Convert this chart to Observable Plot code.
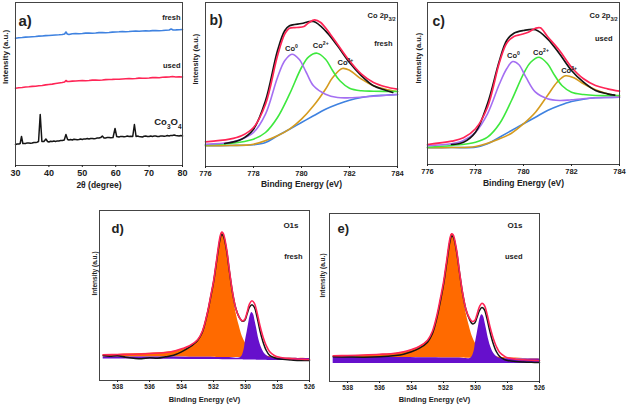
<!DOCTYPE html>
<html><head><meta charset="utf-8">
<script src="https://cdn.jsdelivr.net/npm/d3@7"></script>
<script src="https://cdn.jsdelivr.net/npm/@observablehq/plot@0.6"></script>
<style>
body{margin:0;background:#fff;}
#wrap{position:relative;width:627px;height:408px;overflow:hidden;background:#fff;}
</style></head><body><div id="wrap"></div>
<script>
// ---------- Panel a: XRD (2θ, intensity a.u.) ----------
const xrdTicks = [30,40,50,60,70,80];
const xrdFresh = [[30,127.3],[31,127.8],[32,128],[33,128.4],[34,128.5],[35,128.8],[36,129],[37,129.4],[38,129.5],[39,129.9],[40,130],[41,130.3],[42,130.5],[43,130.7],[44,131],[44.7,131.5],[45.1,133.5],[45.5,131.5],[46,131],[47,131.8],[48,132],[49,131.8],[50,132],[51,132.4],[52,132.5],[53,132.3],[54,132.5],[55,132.9],[56,133],[57,132.8],[58,133],[59,133.4],[60,133.5],[61,133.7],[62,134],[63,133.8],[64,134],[65,134.3],[66,134.5],[67,134.3],[68,134.5],[69,134.7],[70,134.5],[71,134.9],[72,135],[73,134.8],[74,135],[75,135.3],[76,135.5],[76.6,136.5],[77.2,135.5],[78,135.6],[79,135.8],[80,136]];
const xrdUsed = [[30,77.3],[31,77.7],[32,78],[33,78.5],[34,78.7],[35,79.1],[36,79.3],[37,79.8],[38,80],[39,80.6],[40,81],[41,81.4],[42,82],[43,82.5],[44,83],[44.7,83.5],[45.1,85],[45.5,84],[46,84],[47,84.4],[48,84.5],[49,84.8],[50,85],[51,84.8],[52,85],[53,85.4],[54,85.5],[55,85.3],[56,85.5],[57,85.9],[58,86],[59,86.1],[60,86.3],[61,86.2],[62,86.5],[63,86.8],[64,87],[65,86.8],[66,87],[67,87.4],[68,87.3],[69,87.2],[70,87.5],[71,87.9],[72,88],[73,87.8],[74,88.2],[75,88.4],[76,88.5],[77,89],[78,88.5],[79,88.7],[80,88.5]];
const xrdCo3O4 = [[30,21],[30.5,21.5],[31,21.4],[31.4,22],[31.8,29],[32.2,22],[33,22],[33.5,22.6],[34,22.5],[34.5,22.2],[35,22.5],[35.5,23],[36,23],[36.5,23.3],[36.9,24],[37.4,51],[37.9,24],[38.5,24],[39.1,26.5],[39.6,24],[40,23.5],[40.5,24.2],[41,24],[41.5,24.4],[42,24],[42.5,24.6],[43,24.5],[43.5,24.9],[44,25],[44.6,25.5],[45.1,31],[45.6,26],[46,25.5],[46.5,26],[47,25.5],[47.5,26.2],[48,26],[48.5,25.7],[49,26],[49.5,26.5],[50,26],[50.5,26.6],[51,26.5],[51.5,26.9],[52,26.5],[52.5,27],[53,27],[53.5,26.7],[54,27],[54.5,27.6],[55,27.5],[55.5,27.9],[56,29.5],[56.5,27.6],[57,27.5],[57.5,28.1],[58,28],[58.5,27.7],[59.2,28],[59.8,37],[60.3,29],[61,28.5],[61.5,29.1],[62,29],[62.5,28.7],[63,29],[63.5,29.4],[64,29],[64.5,29.3],[65.1,29],[65.6,41],[66.1,29],[66.5,29.4],[67,29],[67.5,28.8],[68,28.5],[68.5,29.2],[69,29.5],[69.5,29],[70,29],[70.5,29.5],[71,29],[71.5,29.4],[72,29.5],[72.5,29.1],[73,29],[73.5,29.6],[74,29.5],[74.5,29.2],[75,29.5],[75.5,29.9],[76,29.5],[76.5,30.1],[77,30],[77.5,30.4],[78,30],[78.5,29.8],[79,29.5],[79.5,30],[80,29.5]];

// ---------- Panels b, c: Co 2p3/2 XPS ----------
const co2pTicks = [776,778,780,782,784];
const bBlue = [[776,20.7],[777,21],[778,21.7],[778.5,24],[779,30.7],[779.5,37.3],[780,44],[780.5,50.7],[781,57.3],[781.5,62.3],[782,66.3],[782.5,69],[783,70.7],[783.5,71.3],[784,72]];
const bPurple = [[776,22.3],[777,24],[777.5,27.3],[778,34],[778.5,52.3],[779,89],[779.3,105.7],[779.6,112.3],[779.9,107.3],[780.2,94],[780.5,80.7],[781,72.3],[781.5,69],[782,68.7],[783,70.3],[784,72]];
const bGreen = [[776,21.7],[777,23],[778,27.3],[778.5,34],[779,49],[779.5,72.3],[780,99],[780.3,109.7],[780.65,113.3],[781,107.3],[781.3,95.7],[781.6,85.7],[782,78.3],[782.5,75.7],[783,75.3],[784,75]];
const bGold = [[776,20.7],[777,21],[778,22.3],[779,30.7],[779.5,37.3],[780,47.3],[780.5,60.7],[781,77.3],[781.3,89],[781.7,98],[782,96.3],[782.5,87.3],[783,80.7],[783.5,77.3],[784,75]];
const bBlack = [[776.8,23],[777.5,27.3],[778,37.3],[778.5,65.7],[779,115.7],[779.3,135.7],[779.5,140.7],[780,143],[780.5,145],[781,135.7],[781.5,120.7],[782,104],[782.5,90.7],[783,80.7],[783.5,76.3],[783.8,74]];
const bRed = [[776,24.7],[777,27.3],[777.5,30.7],[778,39],[778.5,62.3],[779,110.7],[779.3,132.3],[779.5,138.3],[779.8,139],[780.1,140],[780.3,143.7],[780.55,146.7],[780.8,144],[781.2,132.3],[781.5,122.3],[782,105.7],[782.5,92.3],[783,84],[783.5,79.7],[784,77.3]];
const bPeakLabels = [{x:779.58,y:118,t:"Co^{0}"},{x:780.8,y:121,t:"Co^{2+}"},{x:781.83,y:104,t:"Co^{3+}"}];

const cBlue = [[776,16.7],[777,17],[778,17.3],[778.5,20.7],[779,27.3],[779.5,34],[780,40.7],[780.5,47.3],[781,54],[781.5,59],[782,63],[782.5,65.3],[783,66.7],[783.5,67],[784,67.3]];
const cPurple = [[776,18.7],[777,20.7],[777.5,24],[778,32.3],[778.5,50.7],[779,80.7],[779.3,95.7],[779.55,103],[779.8,100],[780.1,87.3],[780.5,72.3],[781,65.7],[781.5,64],[782,64.7],[783,66.7],[784,67.3]];
const cGreen = [[776,17.3],[777,19],[778,22.3],[778.5,27.3],[779,40.7],[779.5,64],[780,90.7],[780.3,102.3],[780.65,107.3],[781,100.7],[781.3,89],[781.6,79],[782,72.3],[782.5,70],[783,69],[784,69]];
const cGold = [[776,16.7],[777,17],[778,18],[779,25.7],[779.5,31.3],[780,40.7],[780.5,52.3],[781,69],[781.4,82.3],[781.75,88.7],[782.1,86.7],[782.5,80.7],[783,74.7],[783.5,70.7],[784,68.3]];
const cBlack = [[777,20],[777.5,22.3],[778,32.3],[778.5,60.7],[779,104],[779.3,124],[779.6,131.3],[780,134],[780.5,134.7],[781,125.7],[781.5,110.7],[782,94],[782.5,82.3],[783,74],[783.5,70.7],[783.8,69.3]];
const cRed = [[776,20],[777,23.3],[777.5,26.7],[778,35.7],[778.5,57.3],[779,102.3],[779.3,121.3],[779.6,128],[779.9,130],[780.2,132.3],[780.5,136.3],[780.7,136.7],[781,128],[781.5,114],[782,97.3],[782.5,85.7],[783,79],[783.5,75.7],[784,73.3]];
const cPeakLabels = [{x:779.58,y:109,t:"Co^{0}"},{x:780.73,y:112,t:"Co^{2+}"},{x:781.9,y:94,t:"Co^{3+}"}];

// ---------- Panels d, e: O1s XPS ----------
const o1sTicks = [538,536,534,532,530,528,526];
// [binding energy, top, base]
const dOrange = [[538.9,25.7,23.6],[538,26,23.6],[537,26.7,23.5],[536,27.3,23.5],[535,28.3,23.4],[534.5,29.3,23.4],[534,31,23.4],[533.5,34,23.3],[533,40,23.3],[532.7,48.8,23.3],[532.4,66,23.2],[532.2,81.5,23.2],[532,98,23.2],[531.8,119,23.1],[531.6,140.5,23.1],[531.5,147.3,23.1],[531.4,146.7,23.1],[531.2,133.3,23],[531,110,23],[530.8,88.3,23],[530.6,68.3,22.9],[530.4,55,22.9],[530.2,44,22.9],[530,37.3,22.8],[529.8,32.7,22.8],[529.5,28.3,22.7],[529.2,26,22.7],[529,25,22.6],[528.5,24,22.5],[528,23.3,22.4],[527,22.6,22.2],[526,22.1,21.9]];
const dPurple = [[538.9,23.6,21.4],[536,23.5,21.2],[533,23.3,21],[531,23,20.8],[530.3,22.9,20.7],[530.1,30,20.6],[530,40,20.6],[529.9,48.3,20.5],[529.8,57.3,20.5],[529.7,65,20.5],[529.6,68,20.4],[529.5,66,20.4],[529.4,59.3,20.4],[529.3,51.7,20.3],[529.2,43.3,20.3],[529,32.7,20.2],[528.8,26.7,20.2],[528.6,24,20.1],[528.3,22.8,20],[528,22.4,20],[526,21.9,19.5]];
const dBlack = [[538.9,25],[538.5,24.3],[538,24.7],[537.5,23.3],[537,22.3],[536.5,21.7],[536,22.7],[535.5,22.3],[535,23.7],[534.5,25.3],[534,28.7],[533.5,33.3],[533,40],[532.7,48.3],[532.4,66],[532.2,81.7],[532,98.3],[531.8,120],[531.6,140.7],[531.5,146],[531.4,145],[531.2,131.7],[531,108.3],[530.8,86.7],[530.6,71.7],[530.4,63.3],[530.2,59.3],[530.05,60],[529.9,66.7],[529.75,73.3],[529.6,75.7],[529.45,73.3],[529.3,65],[529.1,50],[528.9,38.3],[528.7,30],[528.5,25.3],[528.2,22.7],[528,21.7],[527.5,21],[527,20.3],[526.5,20],[526,20]];
const dRed = [[538.9,25.7],[538,26],[537,26.3],[536,27],[535,28],[534.5,29.3],[534,31.7],[533.5,34.7],[533,40.7],[532.7,49.3],[532.4,66.7],[532.2,82.7],[532,99.3],[531.8,121.7],[531.6,143.3],[531.5,148.3],[531.4,147.3],[531.2,133.3],[531,109.3],[530.8,87.3],[530.6,71.7],[530.4,63.3],[530.2,59.7],[530.05,61],[529.9,68.3],[529.75,76.7],[529.6,79.7],[529.45,77.3],[529.3,69.3],[529.1,55],[528.9,43.3],[528.7,34.7],[528.5,29],[528.2,25],[528,23.7],[527.5,22.3],[527,21.7],[526.5,21.3],[526,21]];

const eOrange = [[538.9,25.3,24.3],[538,25.7,24.2],[537,26.3,24.1],[536,27,24],[535,28.3,24],[534.5,29.3,23.9],[534,31.3,23.9],[533.5,34.7,23.8],[533,40.7,23.8],[532.7,49,23.7],[532.4,66,23.7],[532.2,81,23.6],[532,97.5,23.6],[531.8,119,23.6],[531.6,140.5,23.5],[531.5,147.3,23.5],[531.4,146.5,23.5],[531.2,133,23.4],[531,110.5,23.4],[530.8,89,23.4],[530.6,69.5,23.3],[530.4,56,23.3],[530.2,45,23.3],[530,38,23.2],[529.8,33.3,23.2],[529.5,28.7,23.1],[529.2,26.3,23.1],[529,25.3,23],[528.5,24.3,23],[528,23.7,22.8],[527,23,22.6],[526,22.6,22.3]];
const ePurple = [[538.9,24.3,18],[536,24,18],[533,23.8,18],[531,23.4,18],[530.3,23.3,18],[530.1,29.5,18],[530,39,18],[529.9,47.5,18],[529.8,56.3,18],[529.7,63.7,18],[529.6,66.7,18],[529.5,65,18],[529.4,58.5,18],[529.3,51,18],[529.2,43,18],[529,32.5,18],[528.8,26.7,18],[528.6,24,18],[528.3,23,18],[528,22.7,18],[526,22.3,18]];
const eBlack = [[538.9,24.7],[538,24.5],[537,24.3],[536,24.7],[535,26],[534.5,27.3],[534,29.7],[533.5,33.3],[533,39.3],[532.7,47.7],[532.4,64.7],[532.2,80],[532,97],[531.8,118.7],[531.6,140],[531.5,145.3],[531.4,144.7],[531.2,131.5],[531,109],[530.8,87.5],[530.6,72],[530.4,63],[530.2,57.7],[530.05,58.5],[529.9,64.5],[529.75,71],[529.6,74],[529.45,72],[529.3,64],[529.1,50],[528.9,38.3],[528.7,30],[528.5,25.3],[528.2,22],[528,21],[527.5,20],[527,19.5],[526.5,19.2],[526,19]];
const eRed = [[538.9,25.7],[538,26],[537,26.5],[536,27.2],[535,28.3],[534.5,29.7],[534,32],[533.5,35.3],[533,41.3],[532.7,50],[532.4,67.3],[532.2,83],[532,99.5],[531.8,121.5],[531.6,143],[531.5,147.7],[531.4,146.7],[531.2,133],[531,109.5],[530.8,88],[530.6,72.3],[530.4,64],[530.2,60],[530.05,61],[529.9,67.5],[529.75,75],[529.6,78.3],[529.45,76.3],[529.3,68.7],[529.1,55],[528.9,43.5],[528.7,35],[528.5,29.3],[528.2,25.3],[528,23.7],[527.5,22.3],[527,21.7],[526.5,21.3],[526,21]];

// ---------- colours ----------
const C = {blue:"#3f82e0", red:"#ff2556", black:"#151515", purple:"#a46ff2", green:"#3ee83e", gold:"#d59b1e", orange:"#ff6a00", violet:"#6610cc", frame:"#444"};
const FONT = "'Liberation Sans', Arial, sans-serif";

const wrap = document.getElementById("wrap");
function richify(svg){
  d3.select(svg).selectAll("text").each(function(){
    const t = this.textContent;
    if(!/[_^]\{/.test(t)) return;
    const el = d3.select(this); el.text(null);
    const re = /([_^])\{([^}]*)\}|([^_^]+)/g; let m;
    while((m = re.exec(t))){
      if(m[3]) el.append("tspan").text(m[3]);
      else el.append("tspan").attr("baseline-shift", m[1]==="_" ? "sub" : "super").attr("font-size","68%").text(m[2]);
    }
  });
}
function place(svg, left, top){
  svg.style.position = "absolute"; svg.style.left = left+"px"; svg.style.top = top+"px";
  svg.style.maxWidth = "none";
  wrap.appendChild(svg); richify(svg);
}
const line = (data, stroke, sw=1.6, curve="catmull-rom") => Plot.line(data, {x:d=>d[0], y:d=>d[1], stroke, strokeWidth:sw, curve});
const corner = (t, dx, dy, fs, anchor="top-right", ta="end") => Plot.text([t], {frameAnchor:anchor, dx, dy, fontSize:fs, fontWeight:"bold", textAnchor:ta, fill:"#222"});

function panel(o){
  return Plot.plot({
    width:o.w, height:o.h, marginLeft:o.ml, marginRight:o.mr, marginTop:o.mt, marginBottom:o.mb,
    x:{domain:o.xd, reverse:!!o.rev},
    y:{domain:o.yd, axis:null},
    style:{background:"transparent", fontFamily:FONT, fontWeight:"bold", fontSize:o.tfs+"px", color:"#222", overflow:"visible"},
    marks:[
      ...o.marks,
      Plot.frame({stroke:C.frame, strokeWidth:1}),
      Plot.axisX({ticks:o.ticks, tickSize:2, tickPadding:2, label:null, tickFormat:d=>String(d), fontSize:o.tfs}),
      Plot.text([o.xlabel], {frameAnchor:"bottom", dy:o.xldy, fontSize:o.xlfs, fontWeight:"bold", fill:"#222"}),
      Plot.text(["Intensity (a.u.)"], {frameAnchor:"left", rotate:-90, dx:o.yldx, fontSize:o.ylfs, fontWeight:"bold", fill:"#222"}),
      corner(o.tag, o.tagdx, o.tagdy, o.tagfs, "top-left", "start"),
      ...(o.extra||[])
    ]
  });
}

// Panel a
place(panel({
  w:200, h:195, ml:15, mr:18, mt:2, mb:30, xd:[30,80], yd:[0,163], ticks:xrdTicks, tfs:9,
  xlabel:"2θ (degree)", xldy:22, xlfs:8.5, yldx:-10, ylfs:8, tag:"a)", tagdx:3, tagdy:13, tagfs:15,
  marks:[line(xrdFresh, C.blue, 1.6, "linear"), line(xrdUsed, C.red, 1.6, "linear"), line(xrdCo3O4, C.black, 1.5, "linear")],
  extra:[corner("fresh",-2,12,7.5), corner("used",-2,60,7.5), corner("Co_{3}O_{4}",-1,116,9.5)]
}), 0, 0);

// Panel b
place(panel({
  w:215, h:195, ml:15, mr:8, mt:2, mb:29, xd:[776,784], yd:[0,164], ticks:co2pTicks, tfs:7.5,
  xlabel:"Binding Energy (eV)", xldy:20, xlfs:8.5, yldx:-10, ylfs:7.5, tag:"b)", tagdx:4, tagdy:13, tagfs:14,
  marks:[line(bBlue,C.blue), line(bGold,C.gold), line(bGreen,C.green), line(bPurple,C.purple), line(bBlack,C.black,1.7), line(bRed,C.red,1.7),
    Plot.text(bPeakLabels,{x:"x",y:"y",text:"t",fontSize:7.5,fontWeight:"bold",fill:"#222"})],
  extra:[corner("Co 2p_{3/2}",-2,10,7.5), corner("fresh",-5,38,7.5)]
}), 190, 0);

// Panel c
place(panel({
  w:217, h:195, ml:17, mr:8, mt:2, mb:31, xd:[776,784], yd:[0,162], ticks:co2pTicks, tfs:7.5,
  xlabel:"Binding Energy (eV)", xldy:21, xlfs:8.5, yldx:-9, ylfs:7.5, tag:"c)", tagdx:5, tagdy:14, tagfs:14,
  marks:[line(cBlue,C.blue), line(cGold,C.gold), line(cGreen,C.green), line(cPurple,C.purple), line(cBlack,C.black,1.7), line(cRed,C.red,1.7),
    Plot.text(cPeakLabels,{x:"x",y:"y",text:"t",fontSize:7.5,fontWeight:"bold",fill:"#222"})],
  extra:[corner("Co 2p_{3/2}",-2,10,7.5), corner("used",-7,33,7.5)]
}), 410, 0);

// Panel d
const o1sMarks = (orange, purple, black, red) => [
  Plot.areaY(orange, {x:d=>d[0], y1:d=>d[2], y2:d=>d[1], fill:C.orange, curve:"catmull-rom"}),
  Plot.areaY(purple, {x:d=>d[0], y1:d=>d[2], y2:d=>d[1], fill:C.violet, curve:"catmull-rom"}),
  line(black, C.black, 1.5), line(red, C.red, 1.6)
];
place(panel({
  w:230, h:208, ml:14, mr:6, mt:10, mb:28, xd:[526,539.13], rev:true, yd:[0,170], ticks:o1sTicks, tfs:6.5,
  xlabel:"Binding Energy (eV)", xldy:21, xlfs:7.5, yldx:-5, ylfs:6.5, tag:"d)", tagdx:12, tagdy:13, tagfs:13,
  marks:o1sMarks(dOrange, dPurple, dBlack, dRed),
  extra:[corner("O1s",-11,12,8), corner("fresh",-7,43,7.5)]
}), 85, 200);

// Panel e
place(panel({
  w:230, h:208, ml:14, mr:6, mt:13, mb:27, xd:[526,539.13], rev:true, yd:[0,168], ticks:o1sTicks, tfs:6.5,
  xlabel:"Binding Energy (eV)", xldy:20, xlfs:7.5, yldx:-7, ylfs:6.5, tag:"e)", tagdx:8, tagdy:10, tagfs:13,
  marks:o1sMarks(eOrange, ePurple, eBlack, eRed),
  extra:[corner("O1s",-17,9,8), corner("used",-17,40,7.5)]
}), 315, 200);
</script></body></html>
